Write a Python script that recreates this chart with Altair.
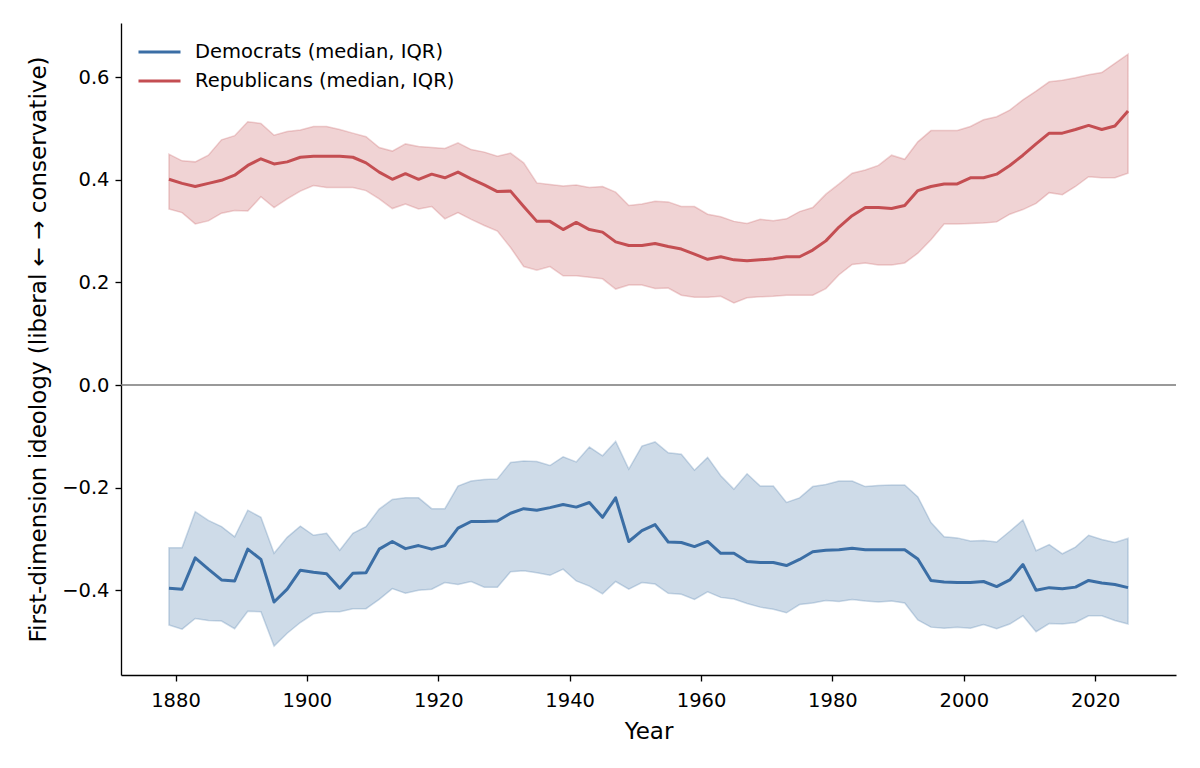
import altair as alt
import pandas as pd

years = list(range(1879, 2026, 2))

rep_med = [0.401, 0.393, 0.387, 0.393, 0.399, 0.409, 0.428, 0.441, 0.431, 0.435,
           0.444, 0.446, 0.446, 0.446, 0.444, 0.433, 0.415, 0.401, 0.412, 0.401,
           0.411, 0.404, 0.415, 0.402, 0.390, 0.377, 0.378, 0.348, 0.319, 0.319,
           0.303, 0.317, 0.303, 0.298, 0.279, 0.272, 0.272, 0.276, 0.270, 0.265,
           0.255, 0.245, 0.250, 0.244, 0.242, 0.244, 0.246, 0.250, 0.250, 0.263,
           0.281, 0.308, 0.330, 0.346, 0.346, 0.344, 0.350, 0.379, 0.387, 0.392,
           0.392, 0.404, 0.404, 0.411, 0.428, 0.448, 0.470, 0.491, 0.491, 0.498,
           0.506, 0.498, 0.505, 0.534]
rep_hi = [0.450, 0.437, 0.435, 0.448, 0.478, 0.486, 0.513, 0.510, 0.487, 0.494,
          0.497, 0.504, 0.504, 0.498, 0.491, 0.484, 0.463, 0.456, 0.470, 0.465,
          0.463, 0.461, 0.472, 0.459, 0.454, 0.446, 0.452, 0.433, 0.394, 0.391,
          0.388, 0.390, 0.385, 0.387, 0.376, 0.350, 0.353, 0.358, 0.357, 0.348,
          0.348, 0.333, 0.328, 0.319, 0.315, 0.323, 0.320, 0.324, 0.338, 0.346,
          0.372, 0.392, 0.413, 0.419, 0.428, 0.448, 0.440, 0.474, 0.496, 0.496,
          0.496, 0.504, 0.517, 0.523, 0.536, 0.556, 0.573, 0.591, 0.594, 0.599,
          0.605, 0.609, 0.627, 0.645]
rep_lo = [0.343, 0.336, 0.314, 0.320, 0.335, 0.340, 0.339, 0.367, 0.346, 0.363,
          0.378, 0.389, 0.385, 0.385, 0.385, 0.379, 0.363, 0.344, 0.353, 0.343,
          0.348, 0.324, 0.336, 0.323, 0.311, 0.300, 0.268, 0.231, 0.224, 0.231,
          0.213, 0.213, 0.210, 0.207, 0.187, 0.195, 0.195, 0.188, 0.189, 0.175,
          0.171, 0.171, 0.173, 0.160, 0.170, 0.172, 0.173, 0.175, 0.175, 0.175,
          0.188, 0.215, 0.235, 0.238, 0.234, 0.234, 0.238, 0.257, 0.283, 0.314,
          0.314, 0.315, 0.316, 0.318, 0.333, 0.342, 0.354, 0.375, 0.371, 0.387,
          0.406, 0.404, 0.404, 0.413]

dem_med = [-0.396, -0.398, -0.337, -0.359, -0.380, -0.382, -0.320, -0.340, -0.423, -0.398,
           -0.361, -0.365, -0.368, -0.396, -0.367, -0.366, -0.320, -0.305, -0.319, -0.313,
           -0.320, -0.313, -0.279, -0.266, -0.266, -0.265, -0.250, -0.241, -0.244, -0.239,
           -0.233, -0.238, -0.229, -0.258, -0.220, -0.305, -0.284, -0.272, -0.306, -0.307,
           -0.315, -0.305, -0.328, -0.328, -0.344, -0.346, -0.346, -0.352, -0.340, -0.325,
           -0.322, -0.321, -0.318, -0.321, -0.321, -0.321, -0.321, -0.339, -0.381, -0.384,
           -0.385, -0.385, -0.383, -0.393, -0.380, -0.350, -0.400, -0.395, -0.397, -0.394,
           -0.381, -0.386, -0.389, -0.395]
dem_hi = [-0.317, -0.317, -0.247, -0.264, -0.276, -0.296, -0.244, -0.258, -0.328, -0.297,
          -0.275, -0.293, -0.289, -0.322, -0.289, -0.276, -0.242, -0.223, -0.220, -0.220,
          -0.241, -0.241, -0.197, -0.187, -0.184, -0.183, -0.151, -0.148, -0.149, -0.157,
          -0.140, -0.150, -0.121, -0.138, -0.110, -0.164, -0.119, -0.111, -0.132, -0.135,
          -0.166, -0.141, -0.177, -0.203, -0.173, -0.197, -0.197, -0.229, -0.220, -0.198,
          -0.194, -0.187, -0.187, -0.198, -0.196, -0.195, -0.195, -0.218, -0.268, -0.296,
          -0.298, -0.304, -0.303, -0.306, -0.285, -0.263, -0.323, -0.311, -0.329, -0.316,
          -0.293, -0.301, -0.307, -0.299]
dem_lo = [-0.468, -0.476, -0.455, -0.459, -0.460, -0.475, -0.441, -0.442, -0.509, -0.484,
          -0.463, -0.446, -0.442, -0.442, -0.436, -0.436, -0.418, -0.397, -0.406, -0.400,
          -0.398, -0.385, -0.389, -0.383, -0.394, -0.394, -0.364, -0.362, -0.366, -0.371,
          -0.359, -0.382, -0.392, -0.407, -0.383, -0.398, -0.385, -0.388, -0.406, -0.408,
          -0.418, -0.403, -0.414, -0.417, -0.426, -0.433, -0.437, -0.444, -0.428, -0.425,
          -0.420, -0.422, -0.418, -0.421, -0.423, -0.421, -0.425, -0.458, -0.472, -0.474,
          -0.472, -0.474, -0.467, -0.475, -0.466, -0.450, -0.481, -0.465, -0.466, -0.463,
          -0.450, -0.450, -0.459, -0.466]

party_names = ["Democrats (median, IQR)", "Republicans (median, IQR)"]
party_colors = ["#3b6ea5", "#c44e52"]
x_ticks = [1880, 1900, 1920, 1940, 1960, 1980, 2000, 2020]
y_ticks = [-0.4, -0.2, 0.0, 0.2, 0.4, 0.6]
zero_line = [0.0]

rows = []
for name, med, lo, hi in [(party_names[0], dem_med, dem_lo, dem_hi),
                          (party_names[1], rep_med, rep_lo, rep_hi)]:
    for yr, m, l, h in zip(years, med, lo, hi):
        rows.append({"year": yr, "party": name, "median": m, "lo": l, "hi": h})
df = pd.DataFrame(rows)
zdf = pd.DataFrame({"zero": zero_line})

FONT = "DejaVu Sans"
x_scale = alt.Scale(domain=[1871.7, 2032.3], nice=False, zero=False)
y_scale = alt.Scale(domain=[-0.5653, 0.7057], nice=False, zero=False)
x_axis = alt.Axis(values=x_ticks, format="d", title="Year", labelBaseline="alphabetic",
                  labelPadding=25, titleBaseline="alphabetic", titleY=63,
                  titleX=527.5, titleAlign="center")
y_axis = alt.Axis(values=y_ticks,
                  labelExpr="replace(format(datum.value, '.1f'), '-', '\u2212')",
                  title="First-dimension ideology (liberal \u2190 \u2192 conservative)",
                  labelPadding=6, titleX=-76, titleY=326, titleAngle=270,
                  titleAlign="center", titleBaseline="alphabetic")
pscale = alt.Scale(domain=party_names, range=party_colors)

base = alt.Chart(df)

zero = alt.Chart(zdf).mark_rule(color="#777777", strokeWidth=1.3).encode(
    y=alt.Y("zero:Q", scale=y_scale, axis=y_axis)
)

band_layers = []
for name, col in zip(party_names, party_colors):
    band_layers.append(
        base.transform_filter(alt.datum.party == name).mark_area(
            fill=col, stroke=col, fillOpacity=0.25, strokeOpacity=0.25, strokeWidth=1.5
        ).encode(
            x=alt.X("year:Q", scale=x_scale, axis=x_axis),
            y=alt.Y("lo:Q", scale=y_scale, axis=y_axis),
            y2="hi:Q",
        )
    )

lines = base.mark_line(strokeWidth=3, strokeJoin="round").encode(
    x=alt.X("year:Q", scale=x_scale, axis=x_axis),
    y=alt.Y("median:Q", scale=y_scale, axis=y_axis),
    color=alt.Color("party:N", scale=pscale,
                    legend=alt.Legend(title=None, orient="none", legendX=16, legendY=17,
                                      symbolType="stroke", symbolSize=1764,
                                      symbolStrokeWidth=3, clipHeight=24, rowPadding=5,
                                      padding=0, labelOffset=13, labelFontSize=19.5,
                                      labelFont=FONT, labelColor="black", labelLimit=500)),
    order="year:Q",
)

chart = alt.layer(zero, *band_layers, lines).properties(
    width=1055, height=652,
    autosize=alt.AutoSizeParams(type="none"),
    padding={"left": 121, "top": 23, "right": 24, "bottom": 93},
    background="white",
).configure(font=FONT).configure_view(strokeWidth=0).configure_axis(
    domainColor="black", domainWidth=1.33, tickColor="black", tickWidth=1.33, tickSize=6,
    labelFontSize=19.5, labelColor="black", labelFont=FONT,
    titleFontSize=23, titleFontWeight="normal", titleColor="black", titleFont=FONT,
    grid=False,
)

chart.save("out.html", embed_options={"renderer": "svg", "actions": False})
